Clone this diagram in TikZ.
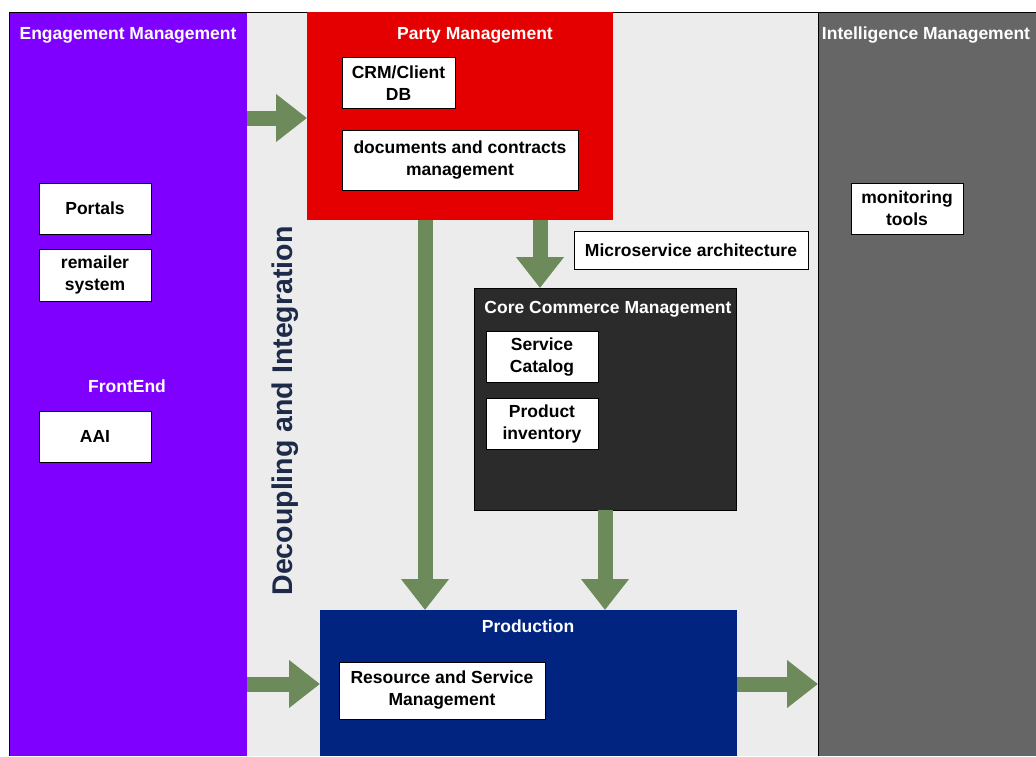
\documentclass[tikz,border=0pt]{standalone}
\usepackage{fontspec}
\setmainfont{Liberation Sans}
\usetikzlibrary{arrows.meta}
\definecolor{engviolet}{RGB}{127,0,255}
\definecolor{midgray}{RGB}{236,236,236}
\definecolor{intgray}{RGB}{102,102,102}
\definecolor{partyred}{RGB}{228,0,0}
\definecolor{coreblack}{RGB}{43,43,43}
\definecolor{prodblue}{RGB}{0,36,128}
\definecolor{flowgreen}{RGB}{109,139,90}
\definecolor{decoupnavy}{RGB}{30,42,74}
\begin{document}
\begin{tikzpicture}[x=1pt,y=-1pt,
  panel/.style={anchor=north west,inner sep=0pt,outer sep=0pt,draw=none},
  title/.style={text=white,font=\bfseries\fontsize{17.5}{21}\selectfont,inner sep=0pt},
  itembox/.style={draw=black,line width=1pt,fill=white,inner sep=0pt,align=center,
    font=\bfseries\fontsize{17.5}{22}\selectfont,text=black},
  flow/.style={draw=flowgreen,line width=15pt,
    -{Triangle[width=46pt,length=31pt]}}
]
\useasboundingbox (0,0) rectangle (1036,756);
\fill[white] (0,0) rectangle (1036,756);

% three vertical lanes
\node[panel,fill=engviolet,minimum width=238pt,minimum height=744pt] (eng) at (9,12) {};
\node[panel,fill=midgray,minimum width=571pt,minimum height=744pt] (mid) at (247,12) {};
\node[panel,fill=intgray,minimum width=218pt,minimum height=744pt] (intel) at (818,12) {};
\draw[black,line width=0.8pt] (9,756) |- (1036,12);
\draw[black,line width=0.8pt] (818,12) -- (818,756);

% domain blocks
\node[panel,fill=partyred,minimum width=306pt,minimum height=208pt] (party) at (307,12) {};
\node[panel,fill=coreblack,draw=black,line width=0.8pt,minimum width=262pt,minimum height=222pt] (core) at (474,288) {};
\node[panel,fill=prodblue,minimum width=417pt,minimum height=146pt] (prod) at (320,610) {};

% lane and block titles
\node[title] (tEng) at (128,35) {Engagement Management};
\node[title] (tParty) at (475,35) {Party Management};
\node[title] (tIntel) at (926,35) {Intelligence Management};
\node[title] (tCore) at (608,309) {Core Commerce Management};
\node[title] (tProd) at (528,626) {Production};
\node[title] (tFront) at (127,386) {FrontEnd};

% integration layer label
\node[rotate=90,text=decoupnavy,font=\bfseries\fontsize{28.5}{30}\selectfont,inner sep=0pt] (tDec) at (285,411) {Decoupling and Integration};

% components
\node[itembox,minimum width=113pt,minimum height=51pt] (crm) at (398.5,83) {CRM/Client\\DB};
\node[itembox,minimum width=236pt,minimum height=60pt] (docs) at (460,160.5) {documents and contracts\\management};
\node[itembox,minimum width=234pt,minimum height=38pt] (micro) at (691,250) {Microservice architecture};
\node[itembox,minimum width=112pt,minimum height=51pt] (svc) at (542,357) {Service\\Catalog};
\node[itembox,minimum width=112pt,minimum height=51pt] (inv) at (542,424) {Product\\inventory};
\node[itembox,minimum width=206pt,minimum height=57pt] (rsm) at (442,690.5) {Resource and Service\\Management};
\node[itembox,minimum width=112pt,minimum height=51pt] (portals) at (95,208.5) {Portals};
\node[itembox,minimum width=112pt,minimum height=52pt] (remailer) at (95,275) {remailer\\system};
\node[itembox,minimum width=112pt,minimum height=51pt] (aai) at (95,436.5) {AAI};
\node[itembox,minimum width=112pt,minimum height=51pt] (mon) at (907,208.5) {monitoring\\tools};

% flow arrows
\coordinate (rowA) at (0,118);
\coordinate (rowB) at (0,684);
\coordinate (colA) at (425,0);
\coordinate (colB) at (540,0);
\coordinate (colC) at (605,0);
\draw[flow] (eng.east |- rowA) -- (party.west |- rowA);
\draw[flow] (party.south -| colA) -- (prod.north -| colA);
\draw[flow] (party.south -| colB) -- (core.north -| colB);
\draw[flow] (core.south -| colC) -- (prod.north -| colC);
\draw[flow] (eng.east |- rowB) -- (prod.west |- rowB);
\draw[flow] (prod.east |- rowB) -- (intel.west |- rowB);
\end{tikzpicture}
\end{document}
